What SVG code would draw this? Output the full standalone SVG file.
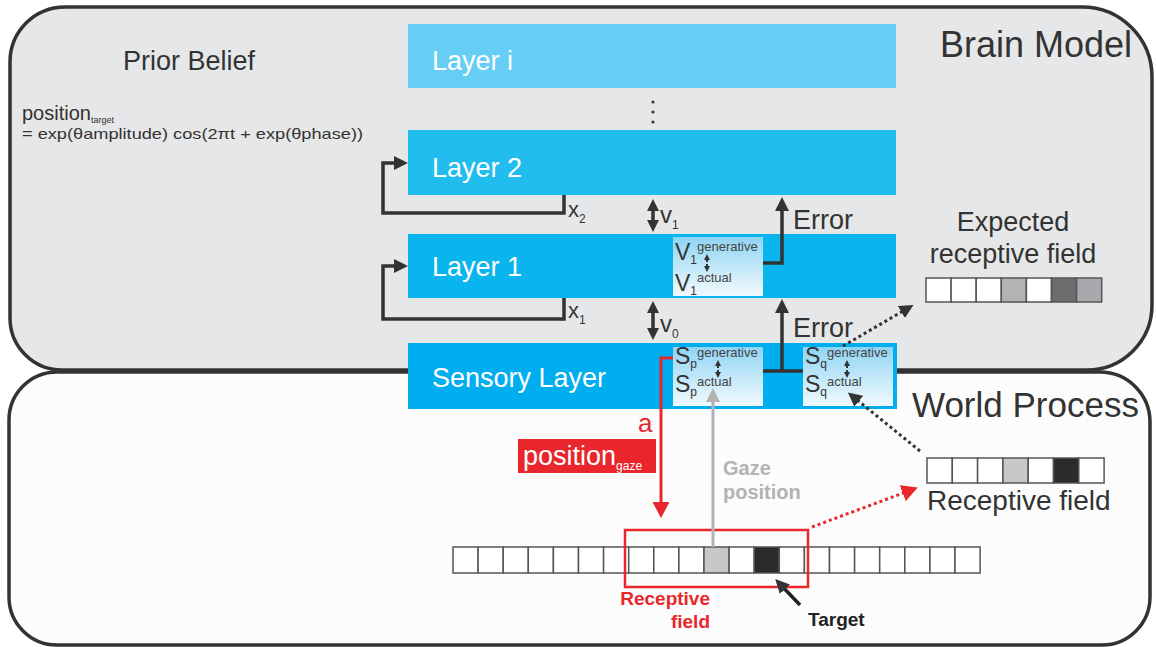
<svg xmlns="http://www.w3.org/2000/svg" width="1156" height="647" viewBox="0 0 1156 647">
<style>
text{font-family:"Liberation Sans",Arial,sans-serif;}
.panel{stroke:#333;stroke-width:3.5;}
.lbl{fill:#fff;font-size:27px;}
.dk{fill:#333;}
.conn{fill:none;stroke:#333;stroke-width:3.5;}
.dot{fill:none;stroke:#333;stroke-width:3;stroke-dasharray:3 3;}
.rdot{fill:none;stroke:#e8262b;stroke-width:3;stroke-dasharray:3 3;}
.cell{stroke:#555;stroke-width:1.5;}
.sym{fill:#333;font-size:23px;}
.sup{fill:#444;font-size:13px;}
.sub{fill:#333;font-size:12px;}
.tiny{fill:none;stroke:#333;stroke-width:2;stroke-dasharray:2 2;}
</style>
<defs>
<marker id="arr" viewBox="0 0 14 14" refX="10" refY="7" markerWidth="14" markerHeight="14" markerUnits="userSpaceOnUse" orient="auto-start-reverse"><path d="M0,0 L14,7 L0,14 z" fill="#333"/></marker>
<marker id="arrS" viewBox="0 0 12 12" refX="8" refY="6" markerWidth="12" markerHeight="12" markerUnits="userSpaceOnUse" orient="auto-start-reverse"><path d="M0,0 L12,6 L0,12 z" fill="#333"/></marker>
<marker id="arrR" viewBox="0 0 16 17" refX="12" refY="8.5" markerWidth="16" markerHeight="17" markerUnits="userSpaceOnUse" orient="auto"><path d="M0,0 L16,8.5 L0,17 z" fill="#e8262b"/></marker>
<marker id="arrG" viewBox="0 0 14 14" refX="10" refY="7" markerWidth="14" markerHeight="14" markerUnits="userSpaceOnUse" orient="auto"><path d="M0,0 L14,7 L0,14 z" fill="#b3b3b3"/></marker>
<marker id="arrT" viewBox="0 0 6 6" refX="4" refY="3" markerWidth="6" markerHeight="6" markerUnits="userSpaceOnUse" orient="auto-start-reverse"><path d="M0,0 L6,3 L0,6 z" fill="#333"/></marker>
<linearGradient id="inner" x1="0" y1="0" x2="0" y2="1"><stop offset="0" stop-color="#8fd4f3"/><stop offset="1" stop-color="#f2fafd"/></linearGradient>
</defs>

<g id="world-panel">
<path class="panel" fill="#fcfcfc" d="M57,372 H1100 A50,50 0 0 1 1150,422 V597 A48,48 0 0 1 1102,645 H57 A48,48 0 0 1 9,597 V420 A48,48 0 0 1 57,372 Z"/>
<text x="912" y="417" class="dk" font-size="35">World Process</text>
</g>
<g id="brain-panel">
<path class="panel" fill="#e6e7e8" d="M65,7 H1082 A70,70 0 0 1 1152,77 V305 A65,65 0 0 1 1087,370 H62 A52,52 0 0 1 10,318 V62 A55,55 0 0 1 65,7 Z"/>
<text x="940" y="57" class="dk" font-size="36">Brain Model</text>
</g>

<g id="prior-belief">
<text x="123" y="70" class="dk" font-size="27">Prior Belief</text>
<text x="22" y="120" class="dk" font-size="20">position<tspan font-size="9" dy="3">target</tspan></text>
<text x="22" y="139" class="dk" font-size="15" textLength="341" lengthAdjust="spacingAndGlyphs">= exp(θamplitude) cos(2πt + exp(θphase))</text>
</g>

<g id="layer-i">
<rect x="408" y="24" width="488" height="64" fill="#66cdf4"/>
<text x="432" y="70" class="lbl">Layer i</text>
</g>
<g id="dots">
<circle cx="653" cy="102" r="1.6" fill="#333"/><circle cx="653" cy="112" r="1.6" fill="#333"/><circle cx="653" cy="122" r="1.6" fill="#333"/>
</g>
<g id="layer-2">
<rect x="408" y="130" width="488" height="65" fill="#22bdef"/>
<text x="432" y="177" class="lbl">Layer 2</text>
</g>
<g id="layer-1">
<rect x="408" y="234" width="488" height="64" fill="#0ab4ec"/>
<text x="432" y="276" class="lbl">Layer 1</text>
<rect x="673" y="237" width="90" height="59" fill="url(#inner)"/>
<text x="675" y="260" class="sym">V<tspan class="sub" dy="4">1</tspan></text>
<text x="697" y="251" class="sup">generative</text>
<text x="675" y="291" class="sym">V<tspan class="sub" dy="4">1</tspan></text>
<text x="697" y="282" class="sup">actual</text>
<line x1="707" y1="256" x2="707" y2="270" class="tiny" marker-start="url(#arrT)" marker-end="url(#arrT)"/>
</g>
<g id="sensory-layer">
<rect x="408" y="343" width="489" height="66" fill="#00aeef"/>
<text x="432" y="387" class="lbl">Sensory Layer</text>
<rect x="673" y="347" width="90" height="59" fill="url(#inner)"/>
<text x="675" y="364" class="sym">S<tspan class="sub" dy="4">p</tspan></text>
<text x="697" y="357" class="sup">generative</text>
<text x="675" y="392" class="sym">S<tspan class="sub" dy="4">p</tspan></text>
<text x="697" y="386" class="sup">actual</text>
<line x1="718" y1="362" x2="718" y2="376" class="tiny" marker-start="url(#arrT)" marker-end="url(#arrT)"/>
<rect x="803" y="347" width="90" height="59" fill="url(#inner)"/>
<text x="805" y="364" class="sym">S<tspan class="sub" dy="4">q</tspan></text>
<text x="827" y="357" class="sup">generative</text>
<text x="805" y="392" class="sym">S<tspan class="sub" dy="4">q</tspan></text>
<text x="827" y="386" class="sup">actual</text>
<line x1="847" y1="362" x2="847" y2="376" class="tiny" marker-start="url(#arrT)" marker-end="url(#arrT)"/>
</g>

<g id="expected-rf">
<text x="1013" y="231" class="dk" font-size="27" text-anchor="middle">Expected</text>
<text x="1013" y="263" class="dk" font-size="27" text-anchor="middle">receptive field</text>
<rect class="cell" x="926" y="278" width="25.1" height="24" fill="#fff"/>
<rect class="cell" x="951.1" y="278" width="25.1" height="24" fill="#fff"/>
<rect class="cell" x="976.2" y="278" width="25.1" height="24" fill="#fff"/>
<rect class="cell" x="1001.3" y="278" width="25.1" height="24" fill="#b3b3b3"/>
<rect class="cell" x="1026.4" y="278" width="25.1" height="24" fill="#fff"/>
<rect class="cell" x="1051.5" y="278" width="25.1" height="24" fill="#6d6d6f"/>
<rect class="cell" x="1076.6" y="278" width="25.1" height="24" fill="#a7a9ac"/>
</g>

<g id="receptive-field">
<rect class="cell" x="927" y="458" width="25.3" height="25" fill="#fff"/>
<rect class="cell" x="952.3" y="458" width="25.3" height="25" fill="#fff"/>
<rect class="cell" x="977.6" y="458" width="25.3" height="25" fill="#fff"/>
<rect class="cell" x="1002.9" y="458" width="25.3" height="25" fill="#c8c8c8"/>
<rect class="cell" x="1028.2" y="458" width="25.3" height="25" fill="#fff"/>
<rect class="cell" x="1053.5" y="458" width="25.3" height="25" fill="#2b2b2b"/>
<rect class="cell" x="1078.8" y="458" width="25.3" height="25" fill="#fff"/>
<text x="927" y="510" class="dk" font-size="28">Receptive field</text>
</g>

<g id="world-grid">
<rect class="cell" x="453" y="547" width="25.1" height="26" fill="#fff"/>
<rect class="cell" x="478.1" y="547" width="25.1" height="26" fill="#fff"/>
<rect class="cell" x="503.2" y="547" width="25.1" height="26" fill="#fff"/>
<rect class="cell" x="528.3" y="547" width="25.1" height="26" fill="#fff"/>
<rect class="cell" x="553.4" y="547" width="25.1" height="26" fill="#fff"/>
<rect class="cell" x="578.5" y="547" width="25.1" height="26" fill="#fff"/>
<rect class="cell" x="603.6" y="547" width="25.1" height="26" fill="#fff"/>
<rect class="cell" x="628.7" y="547" width="25.1" height="26" fill="#fff"/>
<rect class="cell" x="653.8" y="547" width="25.1" height="26" fill="#fff"/>
<rect class="cell" x="678.9" y="547" width="25.1" height="26" fill="#fff"/>
<rect class="cell" x="704" y="547" width="25.1" height="26" fill="#c8c8c8"/>
<rect class="cell" x="729.1" y="547" width="25.1" height="26" fill="#fff"/>
<rect class="cell" x="754.2" y="547" width="25.1" height="26" fill="#2b2b2b"/>
<rect class="cell" x="779.3" y="547" width="25.1" height="26" fill="#fff"/>
<rect class="cell" x="804.4" y="547" width="25.1" height="26" fill="#fff"/>
<rect class="cell" x="829.5" y="547" width="25.1" height="26" fill="#fff"/>
<rect class="cell" x="854.6" y="547" width="25.1" height="26" fill="#fff"/>
<rect class="cell" x="879.7" y="547" width="25.1" height="26" fill="#fff"/>
<rect class="cell" x="904.8" y="547" width="25.1" height="26" fill="#fff"/>
<rect class="cell" x="929.9" y="547" width="25.1" height="26" fill="#fff"/>
<rect class="cell" x="955" y="547" width="25.1" height="26" fill="#fff"/>
<rect x="625" y="530" width="183" height="57" fill="none" stroke="#e8262b" stroke-width="2.5"/>
<text x="710" y="605" fill="#e8262b" font-size="19" font-weight="bold" text-anchor="end">Receptive</text>
<text x="710" y="628" fill="#e8262b" font-size="19" font-weight="bold" text-anchor="end">field</text>
<text x="808" y="626" fill="#222" font-size="19" font-weight="bold">Target</text>
</g>

<g id="action">
<rect x="518" y="439" width="138" height="34" fill="#e8262b"/>
<text x="523" y="465" fill="#fff" font-size="27">position<tspan font-size="12" dy="5">gaze</tspan></text>
<text x="638" y="432" fill="#e8262b" font-size="26">a</text>
<text x="723" y="475" fill="#b3b3b3" font-size="20" font-weight="bold">Gaze</text>
<text x="723" y="499" fill="#b3b3b3" font-size="20" font-weight="bold">position</text>
</g>

<g id="connectors">
<path class="conn" d="M564,195 V213 H383 V163 H404" marker-end="url(#arr)"/>
<path class="conn" d="M564,298 V319 H383 V266 H404" marker-end="url(#arr)"/>
<text x="568" y="217" class="dk" font-size="22">x<tspan font-size="12" dy="6">2</tspan></text>
<text x="568" y="318" class="dk" font-size="22">x<tspan font-size="12" dy="6">1</tspan></text>
<line class="conn" x1="653" y1="203" x2="653" y2="228" stroke-width="3" marker-start="url(#arrS)" marker-end="url(#arrS)"/>
<line class="conn" x1="653" y1="305" x2="653" y2="336" stroke-width="3" marker-start="url(#arrS)" marker-end="url(#arrS)"/>
<text x="660" y="223" class="dk" font-size="24">v<tspan font-size="12" dy="6">1</tspan></text>
<text x="660" y="332" class="dk" font-size="24">v<tspan font-size="12" dy="6">0</tspan></text>
<path class="conn" d="M763,263 H782 V201" marker-end="url(#arr)"/>
<path class="conn" d="M763,371 H803 M782,371 V303" marker-end="url(#arr)"/>
<text x="793" y="229" class="dk" font-size="27">Error</text>
<text x="793" y="337" class="dk" font-size="27">Error</text>
<path d="M673,358 H661 V514" fill="none" stroke="#e8262b" stroke-width="3" marker-end="url(#arrR)"/>
<line x1="713" y1="547" x2="713" y2="392" stroke="#b3b3b3" stroke-width="3" marker-end="url(#arrG)"/>
<line x1="800" y1="605" x2="778" y2="582" stroke="#222" stroke-width="3.5" marker-end="url(#arr)"/>
<line class="dot" x1="843" y1="346" x2="910" y2="307" marker-end="url(#arr)"/>
<line class="dot" x1="920" y1="451" x2="851" y2="395" marker-end="url(#arr)"/>
<line class="rdot" x1="812" y1="527" x2="914" y2="489" marker-end="url(#arrR)"/>
</g>
</svg>
